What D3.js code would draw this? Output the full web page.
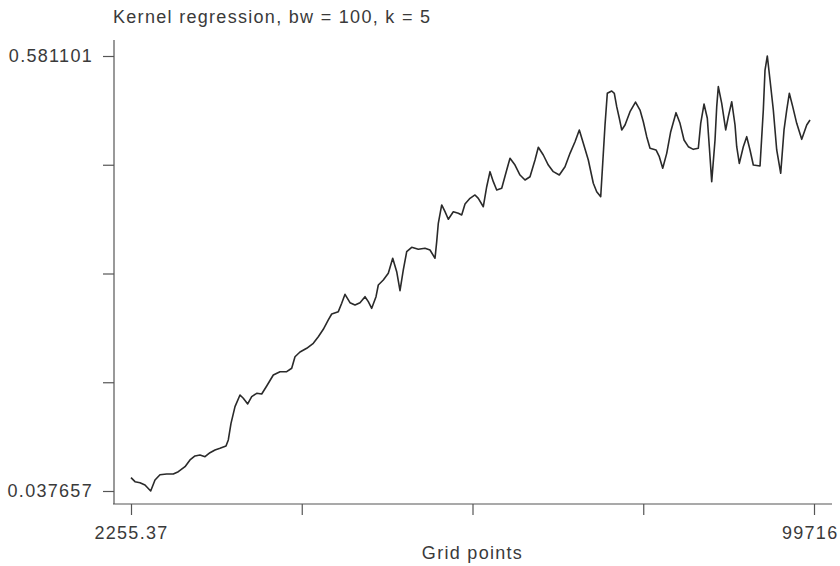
<!DOCTYPE html>
<html>
<head>
<meta charset="utf-8">
<script src="https://cdn.jsdelivr.net/npm/d3@7"></script>
<style>
  body { margin: 0; background: #fff; }
  svg text { font-family: "Liberation Sans", Arial, sans-serif; fill: #3a3a3a; }
</style>
</head>
<body>
<script>
(function () {

  let title = 'Kernel regression, bw = 100, k = 5';
  let xTitle = 'Grid points';

  // grid points
  let gridX = [
    2255, 2826, 3539, 4253, 5066, 5680, 6393, 7349, 8291, 9005,
    9961, 10674, 11388, 12101, 12815, 13528, 14242, 14955, 15812, 16140,
    16525, 17096, 17809, 18280, 18908, 19479, 20192, 20906, 21619, 22561,
    23517, 24473, 25187, 25658, 26371, 27327, 28269, 28983, 29696, 30410,
    30895, 31837, 32322, 32793, 33506, 34220, 34933, 35647, 36118, 36603,
    37217, 37545, 38258, 38972, 39600, 40170, 40641, 41112, 41597, 42311,
    43253, 44209, 44922, 45636, 45878, 46107, 46592, 47063, 47534, 48247,
    48961, 49446, 49917, 50630, 51344, 51815, 52528, 53013, 53484, 53955,
    54440, 55154, 55867, 56338, 57052, 57765, 58479, 59192, 59906, 60377,
    61090, 61804, 62517, 63373, 64187, 64900, 65614, 66227, 66798, 67512,
    68225, 68710, 69281, 69567, 69895, 70223, 70851, 71222, 71564, 71935,
    72278, 72749, 73462, 74247, 74889, 75360, 75845, 76316, 77173, 77643,
    78129, 78699, 79270, 80027, 80597, 81168, 81782, 82495, 83209, 83551,
    84022, 84493, 84778, 85121, 85592, 85834, 86063, 86548, 87119, 87490,
    87975, 88446, 88688, 89059, 89630, 90115, 90586, 91057, 92013, 92484,
    92727, 93055, 93440, 93911, 94396, 94967, 95438, 95823, 96194, 96680,
    97250, 97964, 98677, 99148
  ];

  let fitY = [
    0.0543, 0.0493, 0.0480, 0.0452, 0.037657, 0.0514, 0.0580, 0.0589, 0.0589, 0.0618,
    0.0680, 0.0764, 0.0814, 0.0826, 0.0805, 0.0855, 0.0889, 0.0910, 0.0939, 0.1014,
    0.1222, 0.1430, 0.1576, 0.1535, 0.1464, 0.1555, 0.1597, 0.1588, 0.1688, 0.1826,
    0.1867, 0.1867, 0.1910, 0.2054, 0.2113, 0.2159, 0.2222, 0.2304, 0.2397, 0.2513,
    0.2588, 0.2617, 0.2722, 0.2834, 0.2729, 0.2700, 0.2729, 0.2804, 0.2742, 0.2659,
    0.2804, 0.2950, 0.3013, 0.3096, 0.3284, 0.3116, 0.2879, 0.3138, 0.3366, 0.3421,
    0.3396, 0.3409, 0.3387, 0.3284, 0.3491, 0.3721, 0.3950, 0.3866, 0.3771, 0.3866,
    0.3846, 0.3825, 0.3962, 0.4033, 0.4075, 0.4033, 0.3928, 0.4178, 0.4366, 0.4241,
    0.4137, 0.4158, 0.4387, 0.4533, 0.4449, 0.4324, 0.4262, 0.4303, 0.4512, 0.4671,
    0.4574, 0.4449, 0.4366, 0.4324, 0.4428, 0.4595, 0.4740, 0.4887, 0.4720, 0.4512,
    0.4221, 0.4116, 0.4053, 0.4470, 0.4949, 0.5345, 0.5374, 0.5345, 0.5178, 0.5033,
    0.4887, 0.4949, 0.5115, 0.5236, 0.5136, 0.4990, 0.4803, 0.4658, 0.4637, 0.4553,
    0.4408, 0.4595, 0.4865, 0.5103, 0.4970, 0.4762, 0.4678, 0.4645, 0.4658, 0.4970,
    0.5211, 0.5033, 0.4678, 0.4241, 0.4762, 0.5178, 0.5428, 0.5220, 0.4887, 0.5053,
    0.5240, 0.4949, 0.4678, 0.4470, 0.4678, 0.4803, 0.4637, 0.4449, 0.4437, 0.5136,
    0.5636, 0.581101, 0.5511, 0.5136, 0.4637, 0.4346, 0.4887, 0.5136, 0.5345, 0.5178,
    0.4970, 0.4770, 0.4949, 0.5012
  ];

  let xTicks = [2255.37, 26620.53, 50985.69, 75350.84, 99716];
  let xTickLabels = ['2255.37', '', '', '', '99716'];
  let yTicks = [0.037657, 0.173518, 0.309379, 0.445240, 0.581101];
  let yTickLabels = ['0.037657', '', '', '', '0.581101'];

  function go() {

    let width  = 840;
    let height = 566;

    // plot area (axis lines sit a little outside the data range)
    let left = 114, right = 832, top = 40, bottom = 504;
    let fontSize = '18px', spacing = '1.3px';

    let x = d3.scaleLinear().domain([xTicks[0], xTicks[4]]).range([131, 814]);
    let y = d3.scaleLinear().domain([yTicks[0], yTicks[4]]).range([491, 56]);

    let svg = d3.select('body').append('svg')
        .attr('width', width)
        .attr('height', height);

    svg.append('text')
      .attr('x', left - 1)
      .attr('y', 23)
      .style('font-size', fontSize)
      .style('letter-spacing', spacing)
      .text(title);

    let xAxis = d3.axisBottom(x)
        .tickValues(xTicks)
        .tickFormat(function (d, i) { return xTickLabels[i]; })
        .tickSize(11)
        .tickSizeOuter(0)
        .tickPadding(11);

    let yAxis = d3.axisLeft(y)
        .tickValues(yTicks)
        .tickFormat(function (d, i) { return yTickLabels[i]; })
        .tickSize(11)
        .tickSizeOuter(0)
        .tickPadding(10);

    let gx = svg.append('g')
      .attr('transform', 'translate(0,' + bottom + ')')
      .call(xAxis);
    gx.select('.domain').attr('d', 'M' + (left - 1) + ',0H' + right);

    let gy = svg.append('g')
      .attr('transform', 'translate(' + left + ',0)')
      .call(yAxis);
    gy.select('.domain').attr('d', 'M0,' + top + 'V' + bottom);

    svg.selectAll('.domain, .tick line')
      .attr('stroke', '#555')
      .attr('stroke-width', 1.2);

    svg.selectAll('.tick text')
      .attr('fill', '#3a3a3a')
      .style('font-family', '"Liberation Sans", Arial, sans-serif')
      .style('font-size', fontSize)
      .style('letter-spacing', spacing);

    // the last x label is pushed in so it stays inside the page
    gx.selectAll('.tick text')
      .filter(function (d, i) { return i === xTicks.length - 1; })
      .attr('text-anchor', 'end')
      .attr('x', 838 - x(xTicks[4]));

    svg.append('text')
      .attr('x', (131 + 814) / 2)
      .attr('y', 559)
      .attr('text-anchor', 'middle')
      .style('font-size', fontSize)
      .style('letter-spacing', spacing)
      .text(xTitle);

    let line = d3.line()
        .x(function (d, i) { return x(gridX[i]); })
        .y(function (d) { return y(d); });

    svg.append('path')
      .datum(fitY)
      .attr('fill', 'none')
      .attr('stroke', '#2a2a2a')
      .attr('stroke-width', 1.6)
      .attr('stroke-linejoin', 'round')
      .attr('d', line);
  }

  document.addEventListener('DOMContentLoaded', go);

})();
</script>
</body>
</html>
